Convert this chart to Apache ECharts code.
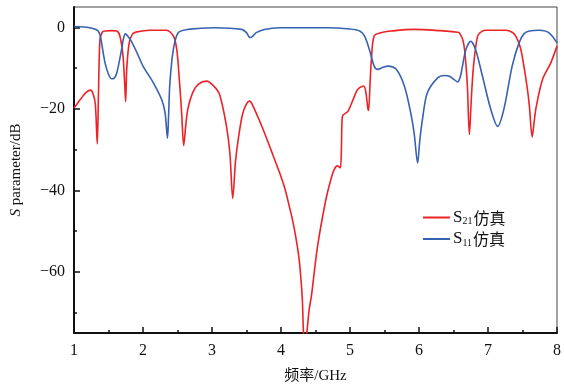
<!DOCTYPE html>
<html>
<head>
<meta charset="utf-8">
<script src="https://cdn.jsdelivr.net/npm/echarts@6/dist/echarts.min.js"></script>
<style>
  html, body { margin: 0; padding: 0; background: #fff; }
  #chart { width: 564px; height: 389px; }
</style>
</head>
<body>
<div id="chart"></div>
<script>
// S21 simulated curve
const s21Freq = [1.00, 1.10, 1.18, 1.24, 1.28, 1.31, 1.337, 1.355, 1.376, 1.41, 1.45, 1.55, 1.62, 1.665, 1.71, 1.735, 1.748, 1.765, 1.80, 1.85, 1.91, 2.10, 2.34, 2.44, 2.49, 2.53, 2.56, 2.59, 2.62, 2.65, 2.72, 2.80, 2.92, 3.02, 3.11, 3.21, 3.26, 3.30, 3.34, 3.38, 3.44, 3.50, 3.545, 3.60, 3.74, 3.86, 3.98, 4.06, 4.12, 4.17, 4.22, 4.26, 4.29, 4.31, 4.33, 4.36, 4.38, 4.41, 4.44, 4.53, 4.65, 4.72, 4.77, 4.82, 4.86, 4.875, 4.89, 4.97, 5.05, 5.10, 5.14, 5.20, 5.23, 5.26, 5.27, 5.29, 5.31, 5.35, 5.45, 5.60, 5.93, 6.30, 6.51, 6.58, 6.63, 6.66, 6.70, 6.73, 6.76, 6.79, 6.85, 6.91, 6.97, 7.26, 7.35, 7.40, 7.47, 7.52, 7.57, 7.60, 7.64, 7.67, 7.70, 7.79, 7.91, 8.00];
const s21Val = [-19.8, -17.5, -15.9, -15.4, -16.5, -19, -28.6, -16, -3, -1.2, -0.9, -0.8, -0.9, -2.1, -7, -14, -18.2, -10, -3.8, -1.6, -1.1, -0.7, -0.7, -2.1, -5.5, -13.6, -21, -29, -24, -20, -16, -14, -13.2, -14.3, -16.5, -24.3, -31, -42, -33, -27.5, -21.5, -18.8, -18.1, -19.5, -25, -30.3, -35.7, -39.8, -43.9, -47.5, -52, -56.5, -62, -67, -76, -78, -74, -69, -66, -53.7, -42.3, -37.5, -34.9, -34, -34.5, -30, -21.8, -20.6, -17.5, -15.5, -14.8, -14.4, -16, -20, -20.4, -14, -7.9, -2.1, -1.3, -0.9, -0.5, -0.8, -1.1, -1.3, -2.8, -5.4, -14, -26.3, -17, -9.5, -2.1, -1.0, -0.7, -0.7, -1.2, -2.1, -5, -9.5, -15, -19.4, -26.9, -23, -19.4, -12.8, -8.7, -4.6];

// S11 simulated curve
const s11Freq = [1.00, 1.15, 1.23, 1.30, 1.35, 1.38, 1.40, 1.45, 1.50, 1.545, 1.58, 1.62, 1.69, 1.72, 1.748, 1.78, 1.83, 1.92, 2.00, 2.15, 2.27, 2.32, 2.355, 2.37, 2.39, 2.44, 2.51, 2.65, 3.04, 3.43, 3.50, 3.55, 3.60, 3.64, 3.76, 3.98, 4.65, 5.00, 5.14, 5.21, 5.28, 5.35, 5.40, 5.48, 5.55, 5.67, 5.79, 5.88, 5.93, 5.98, 6.01, 6.05, 6.12, 6.27, 6.37, 6.44, 6.51, 6.56, 6.60, 6.63, 6.68, 6.75, 6.82, 6.92, 7.04, 7.14, 7.23, 7.35, 7.45, 7.52, 7.60, 7.74, 7.88, 8.00];
const s11Val = [0.2, 0.1, -0.1, -0.4, -0.9, -2, -3.8, -8.7, -11.5, -12.6, -12.5, -11.2, -5.4, -2.5, -1.6, -2.2, -3.4, -6.5, -9.5, -13.6, -17.7, -21, -27.2, -22, -13.6, -5.4, -1.3, -0.5, -0.1, -0.5, -1.3, -2.5, -2, -1.3, -0.5, -0.1, -0.1, -0.4, -0.9, -2.1, -5.4, -9.5, -10.3, -9.8, -9.5, -10.3, -14.5, -21, -26, -33.3, -28, -22.6, -16.1, -12.4, -11.8, -12, -12.8, -13.4, -12, -9.5, -5.4, -3.4, -5.4, -12, -20.1, -24.3, -20.1, -9.5, -3.8, -1.6, -0.9, -0.7, -1.3, -3.8];

const yMajor = [0, -20, -40, -60];
const yMinor = [-10, -30, -50, -70];

const pairs = (xs, ys) => xs.map((x, i) => [x, ys[i]]);
const font = "'Liberation Serif', 'Times New Roman', serif";

const chart = echarts.init(document.getElementById('chart'));
chart.setOption({
  animation: false,
  grid: {
    left: 74, right: 6, top: 7, bottom: 56,
    show: true, borderColor: '#444', borderWidth: 1, backgroundColor: 'transparent'
  },
  legend: {
    orient: 'vertical',
    left: 418, top: 204,
    icon: 'rect',
    itemWidth: 27, itemHeight: 2, itemGap: 4,
    data: ['S21', 'S11'],
    formatter: (name) => name === 'S21' ? '{s|S}{sub|21}{c|仿真}' : '{s|S}{sub|11}{c|仿真}',
    textStyle: {
      padding: [0, 0, 0, -2],
      rich: {
        s: { fontFamily: font, fontSize: 17, color: '#111' },
        sub: { fontFamily: font, fontSize: 10, color: '#111', padding: [8, 1, 0, 0] },
        c: { fontFamily: "'Noto Sans CJK SC', serif", fontSize: 16, color: '#111' }
      }
    }
  },
  xAxis: {
    type: 'value',
    min: 1, max: 8, interval: 1,
    name: '频率/GHz',
    nameLocation: 'middle',
    nameGap: 36,
    nameTextStyle: { fontFamily: "'Liberation Serif', 'Noto Sans CJK SC', serif", fontSize: 15, color: '#111' },
    axisLine: { show: true, onZero: false, lineStyle: { color: '#111', width: 2 } },
    axisTick: { inside: true, length: 6, lineStyle: { color: '#111', width: 1.5 } },
    minorTick: { show: true, splitNumber: 2, length: 3, lineStyle: { color: '#111', width: 1.5 } },
    axisLabel: { fontFamily: font, fontSize: 16, color: '#111', margin: 10 },
    splitLine: { show: false }
  },
  yAxis: [
    {
      type: 'value',
      min: -75, max: 5,
      name: '{i|S} parameter/dB',
      nameLocation: 'middle',
      nameGap: 50,
      nameTextStyle: {
        fontFamily: font, fontSize: 15, color: '#111',
        rich: { i: { fontFamily: font, fontSize: 15, fontStyle: 'italic', color: '#111' } }
      },
      axisLine: { show: true, onZero: false, lineStyle: { color: '#111', width: 2 } },
      axisTick: { inside: true, length: 6, customValues: yMajor, lineStyle: { color: '#111', width: 1.5 } },
      axisLabel: {
        customValues: yMajor,
        fontFamily: font, fontSize: 16, color: '#111', margin: 9,
        formatter: (v) => v < 0 ? '\u2212' + Math.abs(v) : String(v)
      },
      splitLine: { show: false }
    },
    {
      type: 'value',
      min: -75, max: 5,
      position: 'left',
      axisLine: { show: false },
      axisTick: { show: true, inside: true, length: 3, customValues: yMinor, lineStyle: { color: '#111', width: 1.5 } },
      axisLabel: { show: false },
      splitLine: { show: false }
    }
  ],
  series: [
    {
      name: 'S21', type: 'line', yAxisIndex: 0,
      data: pairs(s21Freq, s21Val),
      symbol: 'none', smooth: 0.3, clip: true,
      lineStyle: { color: '#ec2227', width: 1.6 },
      itemStyle: { color: '#ec2227' }
    },
    {
      name: 'S11', type: 'line', yAxisIndex: 0,
      data: pairs(s11Freq, s11Val),
      symbol: 'none', smooth: 0.3, clip: true,
      lineStyle: { color: '#3762b2', width: 1.6 },
      itemStyle: { color: '#3762b2' }
    }
  ]
});
</script>
</body>
</html>
